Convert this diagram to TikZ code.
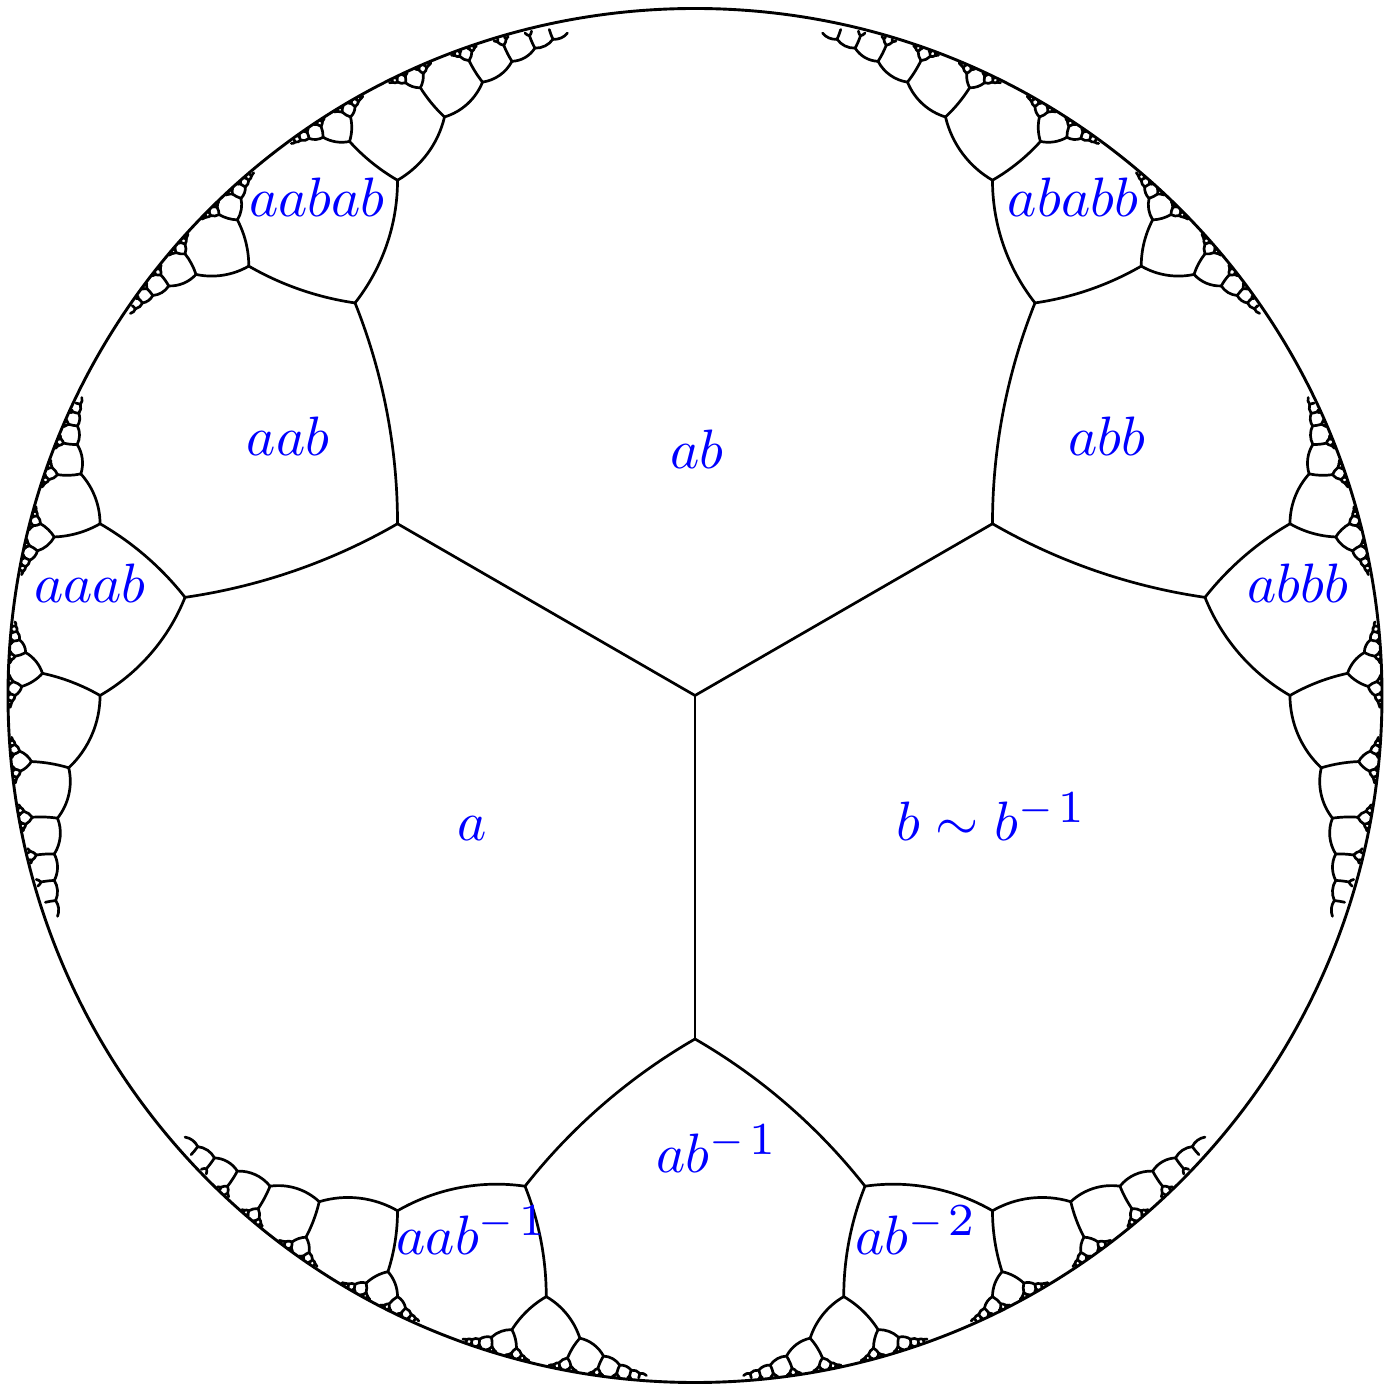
\documentclass[tikz,border=0pt]{standalone}
\usepackage{xfp}
\definecolor{lab}{rgb}{0,0,1}
\tikzset{
  treeedge/.style={draw=black,line width=2.7pt,line cap=round,line join=round},
  rim/.style={draw=black,line width=2.9pt,circle,minimum size=1374pt,inner sep=0pt,fill=none},
  lbl/.style={text=lab,scale=5.55,inner sep=0pt,anchor=base}
}
\newcommand\zone{\kern.9pt\raisebox{-.3pt}{\scalebox{1.18}{$\scriptstyle 1$}}}
\newcommand\ztwo{\kern.9pt\raisebox{-.3pt}{\scalebox{1.18}{$\scriptstyle 2$}}}
\def\zq{0.5773502691896258}
\def\zh{0.2886751345948129}
\def\zt{0.2679491924311227}
\newcommand\hbranch[7]{%
 \begingroup
  \def\zar{(#2)}\def\zai{(#3)}\def\zbr{(#4)}\def\zbi{(#5)}%
  \edef\zdd{\fpeval{\zar*\zar+\zai*\zai}}%
  \edef\zvx{\fpeval{round(695+687*(\zbr*\zar-\zbi*\zai)/\zdd,3)}}%
  \edef\zvy{\fpeval{round(691.5+687*(\zbr*\zai+\zbi*\zar)/\zdd,3)}}%
  \edef\znr{\fpeval{\zbr-\zt*\zar}}\edef\zni{\fpeval{\zbi-\zt*\zai}}%
  \edef\zer{\fpeval{\zar-\zt*\zbr}}\edef\zei{\fpeval{\zt*\zbi-\zai}}%
  \edef\zee{\fpeval{(\zer)*(\zer)+(\zei)*(\zei)}}%
  \edef\zmx{\fpeval{695+687*((\znr)*(\zer)+(\zni)*(\zei))/\zee}}%
  \edef\zmy{\fpeval{691.5+687*((\zni)*(\zer)-(\znr)*(\zei))/\zee}}%
  % exact circular arc through parent, hyperbolic midpoint and vertex
  \edef\zax{\fpeval{\zmx-(#6)}}\edef\zay{\fpeval{\zmy-(#7)}}%
  \edef\zbx{\fpeval{\zvx-\zmx}}\edef\zby{\fpeval{\zvy-\zmy}}%
  \edef\zwr{\fpeval{(\zax)*(\zbx)+(\zay)*(\zby)}}%
  \edef\zwi{\fpeval{(\zax)*(\zby)-(\zay)*(\zbx)}}%
  \edef\zwn{\fpeval{sqrt((\zwr)*(\zwr)+(\zwi)*(\zwi))}}%
  \edef\zcos{\fpeval{(\zwr)/\zwn}}\edef\zsin{\fpeval{(\zwi)/\zwn}}%
  \edef\zrho{\fpeval{(2/3)/(1+\zcos)}}%
  \edef\zdx{\fpeval{\zvx-(#6)}}\edef\zdy{\fpeval{\zvy-(#7)}}%
  \edef\zcax{\fpeval{round(#6+\zrho*((\zdx)*\zcos+(\zdy)*(\zsin)),3)}}%
  \edef\zcay{\fpeval{round(#7+\zrho*((\zdy)*\zcos-(\zdx)*(\zsin)),3)}}%
  \edef\zcbx{\fpeval{round(\zvx-\zrho*((\zdx)*\zcos-(\zdy)*(\zsin)),3)}}%
  \edef\zcby{\fpeval{round(\zvy-\zrho*((\zdy)*\zcos+(\zdx)*(\zsin)),3)}}%
  \draw[treeedge] (#6pt,#7pt) .. controls (\zcax pt,\zcay pt) and (\zcbx pt,\zcby pt) .. (\zvx pt,\zvy pt);%
  \ifnum#1<9
    \hchild{#1}{#2}{#3}{#4}{#5}{1}%
    \hchild{#1}{#2}{#3}{#4}{#5}{-1}%
  \fi
 \endgroup
}
\newcommand\hchild[6]{%
  \edef\zsa{\fpeval{(#2)-(#6)*\zq*(#3)+0.5*(#4)+(#6)*\zh*(#5)}}%
  \edef\zsb{\fpeval{(#6)*\zq*(#2)+(#3)-(#6)*\zh*(#4)+0.5*(#5)}}%
  \edef\zsc{\fpeval{0.5*(#2)-(#6)*\zh*(#3)+(#4)+(#6)*\zq*(#5)}}%
  \edef\zsd{\fpeval{(#6)*\zh*(#2)+0.5*(#3)-(#6)*\zq*(#4)+(#5)}}%
  \edef\znext{\noexpand\hbranch{\the\numexpr#1+1\relax}{\zsa}{\zsb}{\zsc}{\zsd}{\zvx}{\zvy}}%
  \znext
}
\newcommand\hroot[1]{%
  \edef\zca{\fpeval{cosd((#1)/2)*1.154700538379252}}%
  \edef\zsn{\fpeval{sind((#1)/2)*1.154700538379252}}%
  \edef\znext{\noexpand\hbranch{1}{\zca}{\zsn}{\fpeval{\zca/2}}{\fpeval{\zsn/2}}{695}{691.5}}%
  \znext
}
\begin{document}
\begin{tikzpicture}[x=1pt,y=1pt]
\useasboundingbox (0,0) rectangle (1394,1387);
\node[rim] (rimcircle) at (695,691.5) {};
\hroot{150}
\hroot{30}
\hroot{-90}
\node[lbl] (la) at (472,546) {$a$};
\node[lbl] (lb) at (991.5,546) {$b\sim b^{-\zone}$};
\node[lbl] (lab) at (697,918) {$ab$};
\node[lbl] (laab) at (288,931) {$aab$};
\node[lbl] (labb) at (1107,931) {$abb$};
\node[lbl] (laaab) at (90,784) {$aaab$};
\node[lbl] (labbb) at (1298,784) {$abbb$};
\node[lbl] (laabab) at (317,1170) {$aabab$};
\node[lbl] (lababb) at (1073,1170) {$ababb$};
\node[lbl] (labm) at (717,214) {$ab^{-\zone}$};
\node[lbl] (laabm) at (472,133) {$aab^{-\zone}$};
\node[lbl] (labmm) at (916,133) {$ab^{-\ztwo}$};
\end{tikzpicture}
\end{document}
